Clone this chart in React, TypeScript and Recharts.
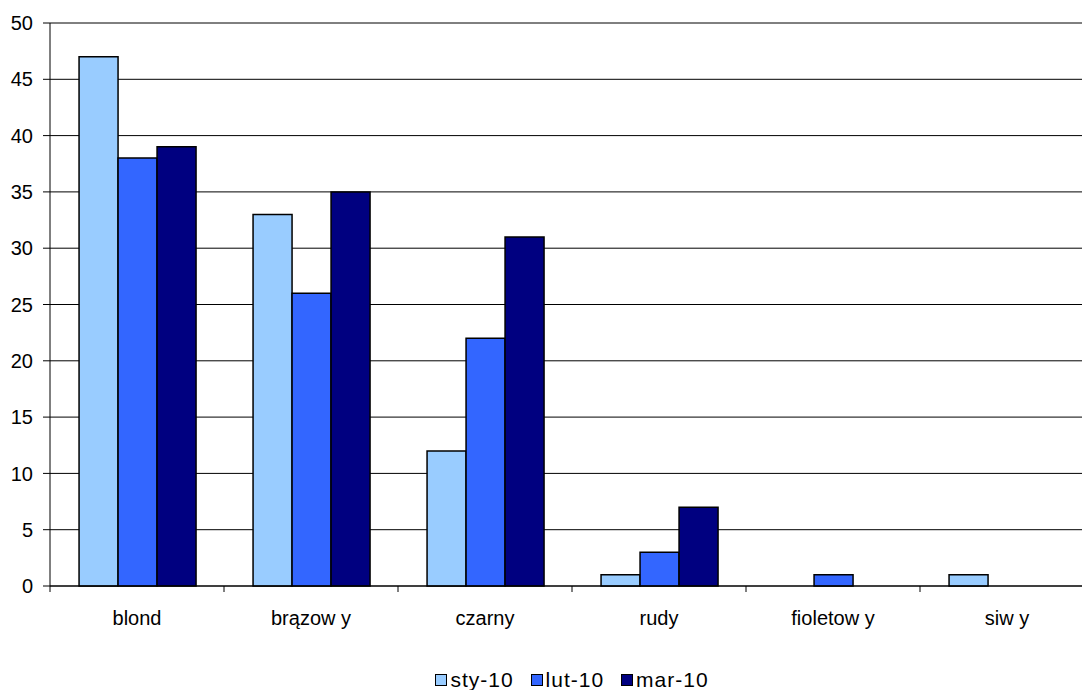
import React from "react";
import {
  BarChart,
  Bar,
  XAxis,
  YAxis,
  CartesianGrid,
  Legend,
} from "recharts";

// hair colour counts per month
const colours = ["blond", "brązow y", "czarny", "rudy", "fioletow y", "siw y"];
const sty10 = [47, 33, 12, 1, 0, 1];
const lut10 = [38, 26, 22, 3, 1, 0];
const mar10 = [39, 35, 31, 7, 0, 0];
const yTicks = [0, 5, 10, 15, 20, 25, 30, 35, 40, 45, 50];

const series = [
  { key: "sty", label: "sty-10", color: "#99CCFF" },
  { key: "lut", label: "lut-10", color: "#3366FF" },
  { key: "mar", label: "mar-10", color: "#000080" },
];

const data = colours.map((name, i) => ({
  name,
  sty: sty10[i],
  lut: lut10[i],
  mar: mar10[i],
}));

const font = "'Liberation Sans', Arial, sans-serif";

// category labels with the tick mark drawn at the left edge of each band
const CategoryTick = (props: any) => {
  const { x, y, payload } = props;
  const half = payload && payload.offset ? payload.offset : 87;
  return (
    <g>
      <line x1={x - half} y1={y - 8} x2={x - half} y2={y - 2} stroke="#000" />
      <text
        x={x}
        y={y + 31}
        textAnchor="middle"
        fill="#000"
        fontSize={20}
        fontFamily={font}
      >
        {payload.value}
      </text>
    </g>
  );
};

const LegendContent = () => (
  <div
    style={{
      display: "flex",
      justifyContent: "center",
      height: 20,
      lineHeight: "20px",
      fontFamily: font,
      fontSize: 21,
      letterSpacing: 1,
      color: "#000",
    }}
  >
    {series.map((s, i) => (
      <span
        key={s.key}
        style={{ display: "flex", alignItems: "center", marginLeft: i ? 17 : 0 }}
      >
        <span
          style={{
            display: "inline-block",
            width: 10,
            height: 10,
            background: s.color,
            border: "1.5px solid #000",
            marginRight: 3,
          }}
        />
        {s.label}
      </span>
    ))}
  </div>
);

const App = () => {
  return (
    <div
      style={{
        position: "absolute",
        left: 0,
        top: 0,
        width: 1082,
        height: 690,
        overflow: "hidden",
        background: "#fff",
      }}
    >
      <BarChart
        width={1094}
        height={690}
        data={data}
        margin={{ top: 23, right: 0, left: 0, bottom: 0 }}
        barGap={0}
        barCategoryGap="16.7%"
      >
        <CartesianGrid vertical={false} stroke="#000" strokeWidth={1} />
        <XAxis
          dataKey="name"
          stroke="#000"
          tickLine={false}
          tick={<CategoryTick />}
          height={72}
          interval={0}
        />
        <YAxis
          domain={[0, 50]}
          ticks={yTicks}
          width={50}
          stroke="#000"
          tickSize={7}
          tickMargin={10}
          tick={{ fill: "#000", fontSize: 20, fontFamily: font }}
          interval={0}
        />
        <Legend
          verticalAlign="bottom"
          height={32}
          wrapperStyle={{ top: 670, bottom: "auto", left: 50, width: 1044 }}
          content={<LegendContent />}
        />
        {series.map((s) => (
          <Bar
            key={s.key}
            dataKey={s.key}
            name={s.label}
            fill={s.color}
            stroke="#000"
            strokeWidth={1.5}
            isAnimationActive={false}
          />
        ))}
      </BarChart>
    </div>
  );
};

export default App;
